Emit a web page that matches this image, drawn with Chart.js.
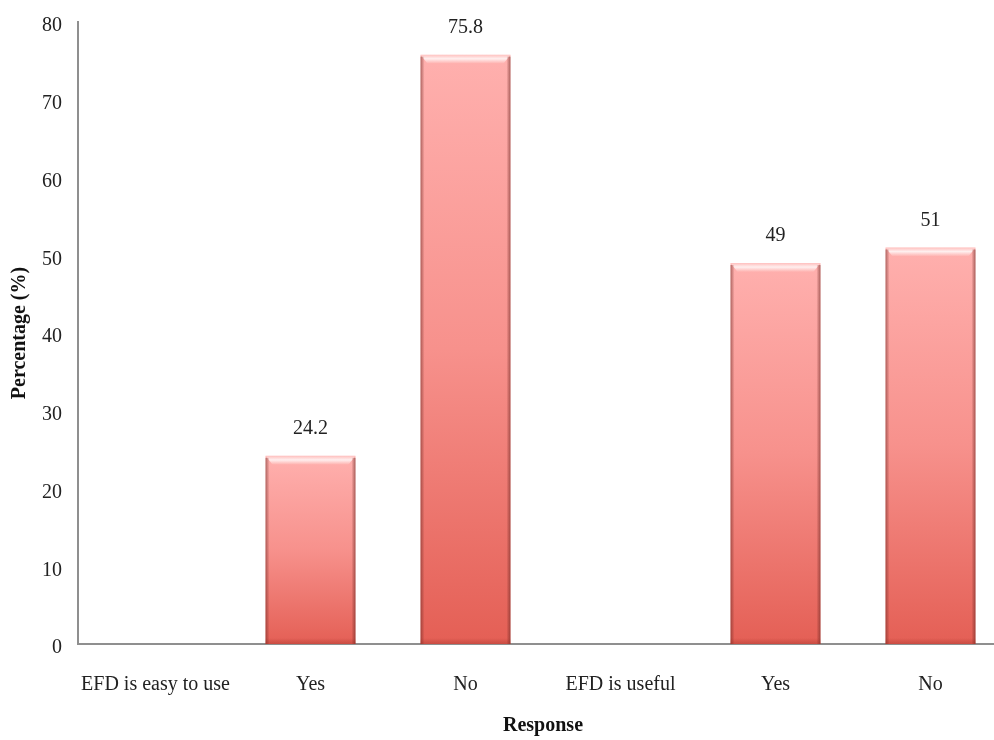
<!DOCTYPE html>
<html>
<head>
<meta charset="utf-8">
<script src="https://cdn.jsdelivr.net/npm/chart.js@4.4.1/dist/chart.umd.min.js"></script>
<style>
  html, body { margin: 0; padding: 0; background: #fff; overflow: hidden; }
  #wrap { width: 994px; height: 740px; overflow: hidden; position: relative; }
  #box { width: 1010px; height: 740px; position: absolute; left: 0; top: 0; }
</style>
</head>
<body>
<div id="wrap"><div id="box"><canvas id="c"></canvas></div></div>
<script>
// Survey responses (percent) about the EFD
const categories = ['EFD is easy to use', 'Yes', 'No', 'EFD is useful', 'Yes', 'No'];
const percentages = [null, 24.2, 75.8, null, 49, 51];
const yTicks = [0, 10, 20, 30, 40, 50, 60, 70, 80];

const FONT = '"Liberation Serif", "Times New Roman", serif';

// Vertical gradient per bar: light pink at the top, deeper red at the base
function barGradient(ctx) {
  const chart = ctx.chart;
  const v = ctx.parsed ? ctx.parsed.y : null;
  if (v == null || !chart.chartArea) return '#f08a84';
  const ys = chart.scales.y;
  const top = ys.getPixelForValue(v);
  const base = ys.getPixelForValue(0);
  const g = chart.ctx.createLinearGradient(0, top, 0, base);
  g.addColorStop(0, '#ffb0ae');
  g.addColorStop(0.5, '#f7918c');
  g.addColorStop(1, '#e45f55');
  return g;
}

// Bevelled edges on each bar
const bevel = {
  id: 'bevel',
  afterDatasetsDraw(chart) {
    const c = chart.ctx;
    chart.getDatasetMeta(0).data.forEach((bar, i) => {
      if (percentages[i] == null) return;
      const { x, y, base, width } = bar.getProps(['x', 'y', 'base', 'width'], true);
      const l = x - width / 2, r = x + width / 2;
      const e = 7;
      c.save();
      // top highlight
      let g = c.createLinearGradient(0, y, 0, y + e + 2);
      g.addColorStop(0, 'rgba(255,255,255,0.2)');
      g.addColorStop(0.45, 'rgba(255,255,255,0.8)');
      g.addColorStop(1, 'rgba(255,255,255,0)');
      c.fillStyle = g;
      c.beginPath();
      c.moveTo(l, y); c.lineTo(r, y); c.lineTo(r - e, y + e + 2); c.lineTo(l + e, y + e + 2);
      c.closePath(); c.fill();
      // side shading
      g = c.createLinearGradient(l, 0, l + 4, 0);
      g.addColorStop(0, 'rgba(110,40,35,0.55)');
      g.addColorStop(1, 'rgba(110,40,35,0)');
      c.fillStyle = g;
      c.fillRect(l, y + 2, 4, base - y - 2);
      g = c.createLinearGradient(r, 0, r - 4, 0);
      g.addColorStop(0, 'rgba(110,40,35,0.6)');
      g.addColorStop(1, 'rgba(110,40,35,0)');
      c.fillStyle = g;
      c.fillRect(r - 4, y + 2, 4, base - y - 2);
      // base shading
      g = c.createLinearGradient(0, base - 6, 0, base);
      g.addColorStop(0, 'rgba(150,40,30,0)');
      g.addColorStop(1, 'rgba(150,40,30,0.35)');
      c.fillStyle = g;
      c.fillRect(l, base - 6, width, 6);
      c.restore();
    });
  }
};

// Value labels above bars
const valueLabels = {
  id: 'valueLabels',
  afterDatasetsDraw(chart) {
    const c = chart.ctx;
    c.save();
    c.font = '20px ' + FONT;
    c.fillStyle = '#222';
    c.textAlign = 'center';
    c.textBaseline = 'middle';
    chart.getDatasetMeta(0).data.forEach((bar, i) => {
      const v = percentages[i];
      if (v == null) return;
      c.fillText(String(v), bar.x, bar.y - 27);
    });
    c.restore();
  }
};

new Chart(document.getElementById('c'), {
  type: 'bar',
  data: {
    labels: categories,
    datasets: [{
      data: percentages,
      backgroundColor: barGradient,
      borderWidth: 0,
      barPercentage: 0.58,
      categoryPercentage: 1.0
    }]
  },
  options: {
    responsive: true,
    maintainAspectRatio: false,
    animation: false,
    layout: { padding: { top: 0, left: 8, right: 2, bottom: 2 } },
    plugins: { legend: { display: false }, tooltip: { enabled: false } },
    scales: {
      x: {
        afterFit(axis) { axis.height = 94; },
        grid: { display: false, drawTicks: false },
        border: { display: true, color: '#8f8f8f', width: 2 },
        ticks: { color: '#222', font: { family: FONT, size: 20 }, padding: 29, maxRotation: 0, autoSkip: false },
        title: { display: true, text: 'Response', color: '#111', font: { family: FONT, size: 20, weight: 'bold' }, padding: { top: 0, bottom: 0 } }
      },
      y: {
        min: 0, max: 80,
        afterBuildTicks(axis) { axis.ticks = yTicks.map(v => ({ value: v })); },
        afterFit(axis) { axis.width = 70; axis.paddingTop = 22; },
        grid: { display: false, drawTicks: false },
        border: { display: true, color: '#8f8f8f', width: 2 },
        ticks: { color: '#222', font: { family: FONT, size: 20, lineHeight: 0.6 }, padding: 16, labelOffset: 4 },
        title: { display: true, text: 'Percentage (%)', color: '#111', font: { family: FONT, size: 20, weight: 'bold' }, padding: { top: 0, bottom: 0 } }
      }
    }
  },
  plugins: [bevel, valueLabels]
});
</script>
</body>
</html>
